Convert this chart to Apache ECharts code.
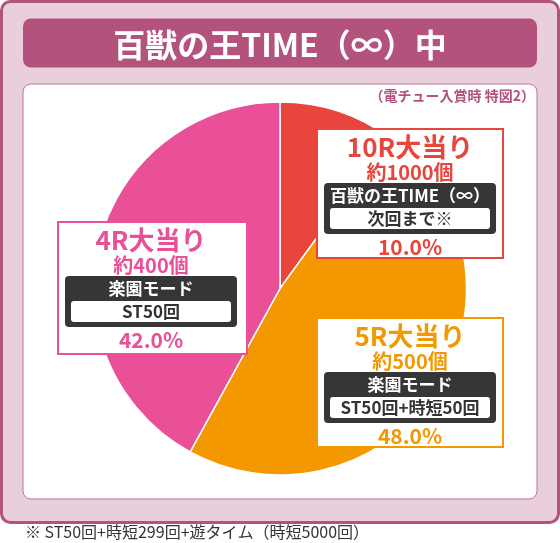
<!DOCTYPE html>
<html><head><meta charset="utf-8">
<script src="https://cdn.jsdelivr.net/npm/echarts@6/dist/echarts.min.js"></script>
<style>html,body{margin:0;padding:0;background:#fff;}#c{width:560px;height:543px;}</style>
</head><body><div id="c"></div>
<script>
const titleText = '百獣の王TIME（∞）中';
const subtitleText = '（電チュー入賞時 特図2）';
const footnoteText = '※ ST50回+時短299回+遊タイム（時短5000回）';
const categories = ['10R大当り', '5R大当り', '4R大当り'];
const shares = [10.0, 48.0, 42.0];
const payouts = ['約1000個', '約500個', '約400個'];
const modes = ['百獣の王TIME（∞）', '楽園モード', '楽園モード'];
const modeDetails = ['次回まで※', 'ST50回+時短50回', 'ST50回'];

const colors = ['#e8453c', '#f39800', '#e95098'];
const FF = '"Noto Sans CJK JP", "Noto Sans", sans-serif';
// label box layout (style only)
const boxes = [
  {x: 317, y: 129, w: 186, h: 129, cx: 410},
  {x: 317, y: 318, w: 186, h: 129, cx: 410},
  {x: 58, y: 222, w: 189, h: 132, cx: 151}
];

const chart = echarts.init(document.getElementById('c'));
const g = [];
// frame
g.push({type: 'rect', z: -10, shape: {x: 1.5, y: 1.5, width: 557, height: 521, r: 9},
  style: {fill: '#e9cfdc', stroke: '#b3527d', lineWidth: 3}});
g.push({type: 'rect', z: -9, shape: {x: 23, y: 18.5, width: 514, height: 49, r: 8},
  style: {fill: '#b3527d'}});
g.push({type: 'text', z: -8, x: 280, y: 45, style: {text: titleText, fill: '#fff', fontSize: 32,
  fontFamily: FF, fontWeight: 'bold', align: 'center', verticalAlign: 'middle'}});
g.push({type: 'rect', z: -9, shape: {x: 23, y: 84, width: 514, height: 415, r: 8},
  style: {fill: '#fff', stroke: '#c8709a', lineWidth: 1}});
g.push({type: 'text', z: -8, x: 535, y: 96, style: {text: subtitleText, fill: '#b3527d', fontSize: 14,
  fontFamily: FF, fontWeight: 'bold', align: 'right', verticalAlign: 'middle'}});
g.push({type: 'text', z: -8, x: 25, y: 532, style: {text: footnoteText, fill: '#333', fontSize: 16,
  fontFamily: FF, align: 'left', verticalAlign: 'middle'}});

categories.forEach((name, i) => {
  const b = boxes[i], c = colors[i];
  const Z = 100;
  g.push({type: 'rect', z: Z, shape: {x: b.x, y: b.y, width: b.w, height: b.h},
    style: {fill: '#fff', stroke: c, lineWidth: 2}});
  g.push({type: 'text', z: Z + 1, x: b.cx, y: b.y + 18, style: {text: name, fill: c, fontSize: 26,
    fontFamily: FF, fontWeight: 'bold', align: 'center', verticalAlign: 'middle'}});
  g.push({type: 'text', z: Z + 1, x: b.cx, y: b.y + 43, style: {text: payouts[i], fill: c, fontSize: 20,
    fontFamily: FF, fontWeight: 'bold', align: 'center', verticalAlign: 'middle'}});
  g.push({type: 'rect', z: Z + 1, shape: {x: b.cx - 86, y: b.y + 54, width: 172, height: 51, r: 4},
    style: {fill: '#363636'}});
  g.push({type: 'text', z: Z + 2, x: b.cx, y: b.y + 67, style: {text: modes[i], fill: '#fff', fontSize: 17,
    fontFamily: FF, fontWeight: 'bold', align: 'center', verticalAlign: 'middle'}});
  g.push({type: 'rect', z: Z + 2, shape: {x: b.cx - 80, y: b.y + 79, width: 160, height: 21, r: 3},
    style: {fill: '#fff'}});
  g.push({type: 'text', z: Z + 3, x: b.cx, y: b.y + 90, style: {text: modeDetails[i], fill: '#333', fontSize: 17,
    fontFamily: FF, fontWeight: 'bold', align: 'center', verticalAlign: 'middle'}});
  g.push({type: 'text', z: Z + 1, x: b.cx, y: b.y + 118, style: {text: shares[i].toFixed(1) + '%', fill: c, fontSize: 21,
    fontFamily: FF, fontWeight: 'bold', align: 'center', verticalAlign: 'middle'}});
});

chart.setOption({
  animation: false,
  color: colors,
  graphic: {elements: g},
  series: [{
    type: 'pie', z: 2,
    center: [280, 288.5], radius: 186.5,
    startAngle: 90, clockwise: true,
    label: {show: false}, labelLine: {show: false},
    itemStyle: {borderColor: '#fff', borderWidth: 1.5},
    emphasis: {disabled: true},
    data: categories.map((n, i) => ({name: n, value: shares[i]}))
  }]
});
</script></body></html>
